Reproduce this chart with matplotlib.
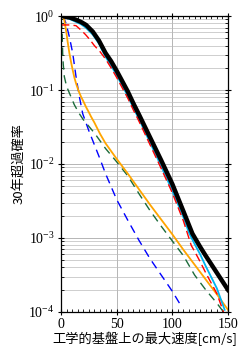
import matplotlib
matplotlib.use('Agg')
import matplotlib.pyplot as plt
from matplotlib.ticker import LogLocator, MultipleLocator, FixedLocator
import numpy as np

plt.rcParams['font.family'] = ['Liberation Serif', 'Noto Sans CJK JP']
plt.rcParams['mathtext.fontset'] = 'stix'

# log10 of exceedance probability
black_v = [1, 8, 13.5, 18, 22.5, 28.5, 34, 40, 45, 50, 55, 60, 65, 70, 80, 90, 100, 110, 118, 125, 130, 140, 150]
black_p = [0, -0.02, -0.05, -0.08, -0.12, -0.21, -0.33, -0.50, -0.61, -0.74, -0.88, -1.02, -1.18, -1.33,
           -1.64, -1.95, -2.27, -2.64, -2.94, -3.12, -3.24, -3.47, -3.70]

cyan_v = [0, 8, 13.5, 18, 22.5, 28.5, 34, 40, 45, 50, 55, 60, 65, 70, 80, 90, 100, 110, 115, 120, 125, 130, 140, 147]
cyan_p = [0, -0.04, -0.08, -0.11, -0.16, -0.25, -0.37, -0.55, -0.67, -0.80, -0.94, -1.08, -1.24, -1.39,
          -1.71, -2.03, -2.36, -2.72, -2.93, -3.08, -3.22, -3.38, -3.68, -3.97]

red_v = [0, 8, 13.5, 18, 22, 26, 30, 35, 40, 45, 50, 55, 60, 65, 70, 80, 90, 100, 110, 117, 120, 125, 130, 140, 146]
red_p = [-0.12, -0.12, -0.13, -0.19, -0.25, -0.32, -0.40, -0.48, -0.58, -0.70, -0.83, -0.97, -1.11, -1.27, -1.42,
         -1.74, -2.06, -2.39, -2.77, -3.10, -3.18, -3.32, -3.47, -3.75, -4.0]

orange_v = [0, 2, 3, 4.5, 6, 7.5, 9, 10.5, 12, 13.5, 16, 18, 20, 22.5, 25, 27, 30, 35, 40, 50, 60, 70, 80, 90,
            100, 110, 120, 130, 140, 150]
orange_p = [0, -0.01, -0.06, -0.19, -0.35, -0.50, -0.62, -0.73, -0.83, -0.91, -1.02, -1.09, -1.15, -1.23, -1.30,
            -1.36, -1.44, -1.59, -1.72, -1.93, -2.13, -2.34, -2.55, -2.75, -2.95, -3.16, -3.36, -3.56, -3.76, -3.97]

green_v = [0, 0.5, 1, 1.5, 2, 3, 5, 7.5, 12, 16.5, 20, 30, 40, 50, 60, 70, 80, 90, 100, 110, 120, 130, 140, 146]
green_p = [-0.05, -0.1, -0.22, -0.5, -0.65, -0.82, -0.95, -1.04, -1.20, -1.32, -1.40, -1.58, -1.79, -1.97, -2.16,
           -2.40, -2.63, -2.84, -3.04, -3.24, -3.50, -3.70, -3.88, -4.0]

blue_v = [1, 2.5, 4.5, 7.5, 10.5, 13.5, 16.5, 19.5, 25, 30, 35, 40, 50, 60, 70, 80, 90, 100, 108]
blue_p = [0, -0.02, -0.10, -0.28, -0.50, -0.82, -1.09, -1.32, -1.55, -1.74, -1.93, -2.13, -2.48, -2.76,
          -3.03, -3.28, -3.50, -3.72, -3.92]

fig = plt.figure(figsize=(2.47, 3.57), dpi=100)
ax = fig.add_axes([0.247, 0.126, 0.676, 0.829])

ax.plot(blue_v, 10 ** np.array(blue_p), color='blue', lw=1.0, dashes=(6, 4))
ax.plot(green_v, 10 ** np.array(green_p), color='#1b6b3a', lw=1.0, dashes=(6, 4))
ax.plot(orange_v, 10 ** np.array(orange_p), color='orange', lw=1.3)
ax.plot(cyan_v, 10 ** np.array(cyan_p), color='#00b4f0', lw=1.3)
ax.plot(red_v, 10 ** np.array(red_p), color='red', lw=1.0, dashes=(6, 3))
ax.plot(black_v, 10 ** np.array(black_p), color='black', lw=3.2)

ax.set_yscale('log')
ax.set_xlim(0, 150)
ax.set_ylim(1e-4, 1)
ax.xaxis.set_major_locator(FixedLocator([0, 50, 100, 150]))
ax.xaxis.set_minor_locator(MultipleLocator(5))
ax.yaxis.set_major_locator(LogLocator(base=10, numticks=10))
ax.yaxis.set_minor_locator(LogLocator(base=10, subs=np.arange(2, 10), numticks=10))

ax.grid(True, which='major', color='#aaaaaa', lw=0.6)
ax.grid(True, which='minor', axis='y', color='#bbbbbb', lw=0.5)
ax.tick_params(which='both', top=True, right=True, labelsize=10, pad=2)
ax.tick_params(which='major', direction='inout', length=5)
ax.tick_params(which='minor', direction='in', length=2)
for s in ax.spines.values():
    s.set_linewidth(0.9)

ax.set_xlabel('工学的基盤上の最大速度[cm/s]', fontsize=9.5, family=['Noto Sans CJK JP'], labelpad=0)
ax.set_ylabel('30年超過確率', fontsize=9.5, family=['Noto Sans CJK JP'], labelpad=2)

fig.savefig('out.png', dpi=100)
